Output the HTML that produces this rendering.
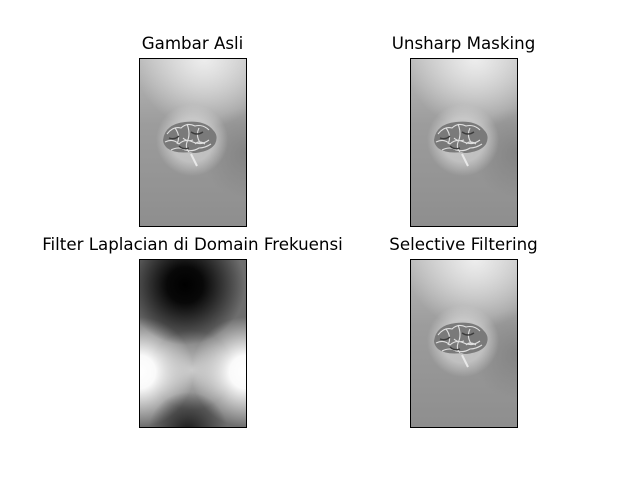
<!DOCTYPE html>
<html><head><meta charset="utf-8"><style>
html,body{margin:0;padding:0;background:#fff}
svg{display:block}
text{font-family:"DejaVu Sans","Liberation Sans",sans-serif;font-size:16.67px;fill:#000}
</style></head><body>
<svg width="640" height="480" viewBox="0 0 640 480">
<defs>
  <linearGradient id="bgv" x1="0" y1="0" x2="0" y2="1">
    <stop offset="0" stop-color="#b8b8b8"/>
    <stop offset="0.4" stop-color="#9c9c9c"/>
    <stop offset="1" stop-color="#8e8e8e"/>
  </linearGradient>
  <radialGradient id="hl" gradientUnits="userSpaceOnUse" cx="65" cy="0" r="70">
    <stop offset="0" stop-color="#f4f4f4" stop-opacity="0.9"/>
    <stop offset="1" stop-color="#fff" stop-opacity="0"/>
  </radialGradient>
  <radialGradient id="dk" gradientUnits="userSpaceOnUse" cx="107" cy="95" r="45">
    <stop offset="0" stop-color="#707070" stop-opacity="0.5"/>
    <stop offset="1" stop-color="#707070" stop-opacity="0"/>
  </radialGradient>
  <radialGradient id="halo" gradientUnits="userSpaceOnUse" cx="53" cy="82" r="36">
    <stop offset="0.6" stop-color="#dcdcdc" stop-opacity="0.6"/>
    <stop offset="1" stop-color="#dcdcdc" stop-opacity="0"/>
  </radialGradient>
  <g id="photo">
    <rect x="0" y="0" width="107" height="168" fill="url(#bgv)"/>
    <rect x="0" y="0" width="107" height="168" fill="url(#hl)"/>
    <rect x="0" y="0" width="107" height="168" fill="url(#dk)"/>
    <rect x="0" y="0" width="107" height="168" fill="url(#halo)"/>
    <path d="M24 82 q2-16 22-18 q20-2 28 8 q6 6 2 14 q-4 6 -14 8 q-8 2 -10 0 q-16 2 -24 -4 q-4 -4 -4 -8z" fill="#7a7a7a"/>
    <path d="M28 76 q6-8 14-6 q6-6 14-2 q8-2 14 4 M26 84 q8-4 14 2 q6-6 14-2 q8 4 16-2 M32 92 q8-4 14 0 q8 2 14-2 q6 0 12-4 M36 70 q6 8 2 16 M48 66 q4 10 0 18 q-2 6 2 10 M60 70 q-4 8 2 16 M44 80 q4 4 10 2 M56 86 q4 -4 10 0" stroke="#e0e0e0" stroke-width="1.1" fill="none"/>
    <path d="M30 80 q6 2 10 -2 M52 74 q6 4 12 0 M40 88 q4 4 10 2" stroke="#3c3c3c" stroke-width="1.4" fill="none"/>
    <path d="M52 96 l6 12" stroke="#e8e8e8" stroke-width="2"/>
  </g>
  <radialGradient id="lblack" gradientUnits="userSpaceOnUse" cx="185" cy="285" r="60">
    <stop offset="0" stop-color="#000"/>
    <stop offset="0.3" stop-color="#080808"/>
    <stop offset="1" stop-color="#000" stop-opacity="0"/>
  </radialGradient>
  <radialGradient id="lwl" gradientUnits="userSpaceOnUse" cx="139" cy="372" r="55">
    <stop offset="0" stop-color="#fff"/>
    <stop offset="0.3" stop-color="#fafafa"/>
    <stop offset="1" stop-color="#fff" stop-opacity="0"/>
  </radialGradient>
  <radialGradient id="lwr" gradientUnits="userSpaceOnUse" cx="246" cy="372" r="55">
    <stop offset="0" stop-color="#fff"/>
    <stop offset="0.3" stop-color="#fafafa"/>
    <stop offset="1" stop-color="#fff" stop-opacity="0"/>
  </radialGradient>
  <radialGradient id="lbot" gradientUnits="userSpaceOnUse" cx="188" cy="432" r="40">
    <stop offset="0" stop-color="#1a1a1a"/>
    <stop offset="1" stop-color="#1a1a1a" stop-opacity="0"/>
  </radialGradient>
  <radialGradient id="lmid" gradientUnits="userSpaceOnUse" cx="192" cy="370" r="40">
    <stop offset="0" stop-color="#c8c8c8"/>
    <stop offset="1" stop-color="#c8c8c8" stop-opacity="0"/>
  </radialGradient>
</defs>

<g>
  <text x="192.5" y="49" text-anchor="middle">Gambar Asli</text>
  <use href="#photo" x="139" y="58"/>
  <rect x="139.5" y="58.5" width="107" height="168" fill="none" stroke="#000"/>
</g>
<g>
  <text x="463.5" y="49" text-anchor="middle">Unsharp Masking</text>
  <use href="#photo" x="410" y="58"/>
  <rect x="410.5" y="58.5" width="107" height="168" fill="none" stroke="#000"/>
</g>
<g>
  <text x="192.5" y="250" text-anchor="middle">Filter Laplacian di Domain Frekuensi</text>
  <rect x="139" y="259" width="107" height="168" fill="#6e6e6e"/>
  <rect x="139" y="259" width="107" height="168" fill="url(#lmid)"/>
  <rect x="139" y="259" width="107" height="168" fill="url(#lwl)"/>
  <rect x="139" y="259" width="107" height="168" fill="url(#lwr)"/>
  <rect x="139" y="259" width="107" height="168" fill="url(#lblack)"/>
  <rect x="139" y="259" width="107" height="168" fill="url(#lbot)"/>
  <rect x="139.5" y="259.5" width="107" height="168" fill="none" stroke="#000"/>
</g>
<g>
  <text x="463.5" y="250" text-anchor="middle">Selective Filtering</text>
  <use href="#photo" x="410" y="259"/>
  <rect x="410.5" y="259.5" width="107" height="168" fill="none" stroke="#000"/>
</g>
</svg>
</body></html>
